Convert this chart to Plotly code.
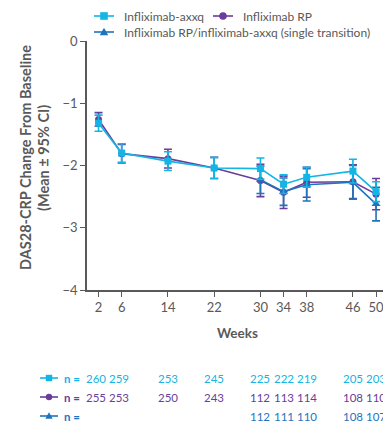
import plotly.graph_objects as go

weeks = [2, 6, 14, 22, 30, 34, 38, 46, 50]
weeks_trans = [30, 34, 38, 46, 50]

axxq_mean = [-1.32, -1.80, -1.93, -2.04, -2.05, -2.30, -2.19, -2.09, -2.42]
axxq_ci = [0.13, 0.15, 0.15, 0.17, 0.17, 0.15, 0.16, 0.19, 0.16]
rp_mean = [-1.26, -1.81, -1.89, -2.04, -2.24, -2.43, -2.27, -2.26, -2.46]
rp_ci = [0.11, 0.15, 0.15, 0.17, 0.26, 0.26, 0.24, 0.27, 0.25]
tr_mean = [-2.23, -2.42, -2.31, -2.27, -2.62]
tr_ci = [0.22, 0.22, 0.26, 0.27, 0.27]

n_axxq = [260, 259, 253, 245, 225, 222, 219, 205, 203]
n_rp = [255, 253, 250, 243, 112, 113, 114, 108, 110]
n_tr = [112, 111, 110, 108, 107]

names = ["Infliximab-axxq", "Infliximab RP", "Infliximab RP/infliximab-axxq (single transition)"]
C_AXXQ = "#12b5e3"
C_RP = "#6b3d9a"
C_TR = "#1f74bd"
GRAY = "#595959"
FONT = "Lato"

OFF = 0
W, H = 383, 421
L, R, T, B = 87, 0, 41, 131
PW, PH = W - L - R, H - T - B


def px(x):
    # window pixel -> paper fraction
    return (x - OFF - L) / PW


def py(y):
    return (H - B - (y - OFF)) / PH


fig = go.Figure()


def add(x, y, e, name, color, symbol, size):
    fig.add_trace(go.Scatter(
        x=x, y=y, name=name, mode="lines+markers", showlegend=False,
        line=dict(color=color, width=1.6),
        marker=dict(color=color, symbol=symbol, size=size),
        error_y=dict(type="data", array=e, visible=True, color=color, thickness=1.6, width=4),
    ))


add(weeks, rp_mean, rp_ci, names[1], C_RP, "circle", 7)
add(weeks_trans, tr_mean, tr_ci, names[2], C_TR, "triangle-up", 8)
add(weeks, axxq_mean, axxq_ci, names[0], C_AXXQ, "square", 7)

annotations = []
shapes = []


def symbol_shapes(cx, cy, col, sym, x0, x1, half=3.5):
    yp = py(cy)
    shapes.append(dict(type="line", xref="paper", yref="paper", x0=px(x0), x1=px(x1), y0=yp, y1=yp,
                       line=dict(color=col, width=1.6)))
    if sym == "square":
        shapes.append(dict(type="rect", xref="paper", yref="paper", x0=px(cx - half), x1=px(cx + half),
                           y0=py(cy + half), y1=py(cy - half), fillcolor=col, line=dict(width=0)))
    elif sym == "circle":
        shapes.append(dict(type="circle", xref="paper", yref="paper", x0=px(cx - half), x1=px(cx + half),
                           y0=py(cy + half), y1=py(cy - half), fillcolor=col, line=dict(width=0)))
    else:
        shapes.append(dict(type="path", xref="paper", yref="paper",
                           path=(f"M {px(cx - half - 0.5)} {py(cy + half - 0.5)} L {px(cx + half + 0.5)} {py(cy + half - 0.5)} "
                                 f"L {px(cx)} {py(cy - half - 0.5)} Z"),
                           fillcolor=col, line=dict(width=0)))


# legend (drawn manually to keep the two-row layout)
legend_items = [
    (names[0], C_AXXQ, "square", 104, 16),
    (names[1], C_RP, "circle", 223, 16),
    (names[2], C_TR, "triangle", 104, 32),
]
for name, col, sym, cx, cy in legend_items:
    symbol_shapes(cx, cy, col, sym, cx - 10, cx + 10, half=3.8)
    annotations.append(dict(text=name, x=px(cx + 18), y=py(cy), xref="paper", yref="paper",
                            showarrow=False, xanchor="left", yanchor="middle",
                            font=dict(family=FONT, size=12, color=GRAY)))

# y-axis title (two lines)
annotations.append(dict(text="<b>DAS28-CRP Change From Baseline</b>", x=px(25), y=py(158), xref="paper", yref="paper",
                        textangle=-90, showarrow=False, xanchor="center", yanchor="middle",
                        font=dict(family=FONT, size=14.5, color=GRAY)))
annotations.append(dict(text="<b>(Mean ± 95% CI)</b>", x=px(43), y=py(158), xref="paper", yref="paper",
                        textangle=-90, showarrow=False, xanchor="center", yanchor="middle",
                        font=dict(family=FONT, size=14.5, color=GRAY)))
# x-axis title
annotations.append(dict(text="<b>Weeks</b>", x=px(237), y=py(333), xref="paper", yref="paper",
                        showarrow=False, xanchor="center", yanchor="middle",
                        font=dict(family=FONT, size=13.5, color=GRAY)))

rows = [
    (378, n_axxq, weeks, C_AXXQ, "square"),
    (397, n_rp, weeks, C_RP, "circle"),
    (416, n_tr, weeks_trans, C_TR, "triangle"),
]
shift = {2: -3, 6: -3}
for ypix, ns, wk, col, sym in rows:
    yp = py(ypix)
    symbol_shapes(49, ypix, col, sym, 40, 58, half=3.2)
    annotations.append(dict(text="<b>n =</b>", x=px(62), y=yp, xref="paper", yref="paper",
                            showarrow=False, xanchor="left", yanchor="middle",
                            font=dict(family=FONT, size=11.5, color=col)))
    for w, n in zip(wk, ns):
        annotations.append(dict(text=str(n), x=w, y=yp, xref="x", yref="paper", showarrow=False,
                                xanchor="center", yanchor="middle", xshift=shift.get(w, 0),
                                font=dict(family=FONT, size=11.5, color=col)))

fig.update_layout(
    width=W, height=H, autosize=False,
    margin=dict(l=L, r=R, t=T, b=B, pad=0),
    paper_bgcolor="white", plot_bgcolor="white",
    font=dict(family=FONT, color=GRAY),
    showlegend=False,
    xaxis=dict(range=[0, 51.2], tickvals=weeks, showgrid=False, zeroline=False,
               showline=True, linecolor=GRAY, linewidth=1.5, ticks="outside", ticklen=5,
               tickcolor=GRAY, tickwidth=1.3, ticklabeloverflow="allow",
               tickfont=dict(family=FONT, size=13, color=GRAY)),
    yaxis=dict(range=[-4, 0], tickvals=[0, -1, -2, -3, -4], showgrid=False, zeroline=False,
               showline=True, linecolor=GRAY, linewidth=1.5, ticks="outside", ticklen=5,
               tickcolor=GRAY, tickwidth=1.3, tickfont=dict(family=FONT, size=13, color=GRAY)),
    annotations=annotations, shapes=shapes,
)

fig.write_html("out.html", config={"displayModeBar": False},
               post_script="document.body.style.margin='0';document.body.style.overflow='hidden';")
